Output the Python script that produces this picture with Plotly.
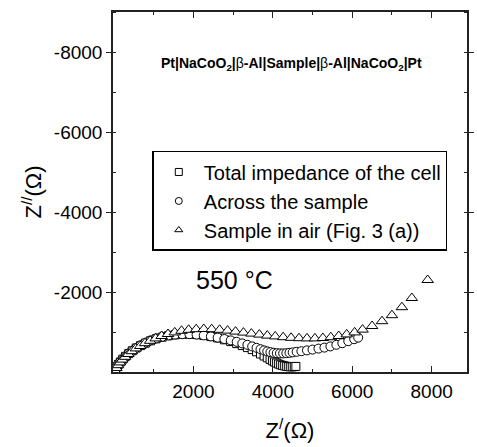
import plotly.graph_objects as go

# Nyquist data at 550 °C: Z' (ohm) and Z'' (ohm, negative = capacitive)
total_zre = [20, 40, 70, 110, 160, 220, 290, 370, 460, 560, 670, 790, 920, 1060, 1210,
             1370, 1540, 1720, 1900, 2080, 2260, 2440, 2610, 2780, 2940, 3090, 3230,
             3360, 3480, 3590, 3690, 3780, 3860, 3930, 3990, 4040, 4090, 4140, 4190,
             4240, 4290, 4340, 4390, 4440, 4490, 4540, 4580]
total_zim = [-20, -70, -130, -190, -250, -320, -390, -460, -530, -600, -660, -720, -780,
             -830, -870, -905, -930, -945, -945, -935, -915, -885, -850, -805, -760,
             -710, -660, -610, -560, -505, -450, -400, -355, -315, -280, -250, -225,
             -200, -180, -165, -152, -142, -135, -130, -130, -135, -140]

sample_zre = [20, 40, 70, 110, 160, 220, 290, 370, 460, 560, 670, 790, 920, 1060, 1210,
              1370, 1540, 1720, 1900, 2080, 2260, 2440, 2610, 2780, 2940, 3090, 3230,
              3360, 3480, 3590, 3690, 3780, 3860, 3940, 4020, 4100, 4180, 4260, 4340,
              4420, 4500, 4600, 4720, 4860, 5000, 5150, 5300, 5450, 5600, 5750, 5900,
              6050, 6150]
sample_zim = [-20, -70, -130, -190, -255, -325, -395, -465, -535, -605, -670, -735, -790,
              -840, -880, -915, -935, -945, -945, -935, -915, -890, -860, -825, -790,
              -755, -715, -680, -640, -605, -570, -540, -515, -495, -480, -470, -465,
              -465, -470, -480, -490, -505, -520, -540, -560, -585, -610, -640, -680,
              -720, -770, -820, -860]

air_zre = [30, 60, 100, 150, 210, 280, 360, 450, 550, 660, 780, 910, 1050, 1200, 1360,
           1530, 1700, 1880, 2070, 2260, 2460, 2660, 2860, 3060, 3260, 3460, 3660, 3860,
           4060, 4260, 4460, 4660, 4860, 5060, 5260, 5460, 5660, 5860, 6060, 6260, 6500,
           6750, 7000, 7250, 7500, 7900]
air_zim = [-30, -100, -170, -240, -310, -380, -450, -520, -590, -650, -720, -780, -840,
           -900, -950, -990, -1030, -1055, -1070, -1075, -1070, -1055, -1035, -1010,
           -985, -960, -935, -910, -890, -870, -855, -845, -840, -840, -850, -870, -900,
           -940, -990, -1060, -1150, -1270, -1420, -1620, -1850, -2300]

series_names = ["Total impedance of the cell", "Across the sample", "Sample in air (Fig. 3 (a))"]
series_symbols = ["square", "circle", "triangle-up"]

x_ticks = [2000, 4000, 6000, 8000]
x_ticklabels = ["2000", "4000", "6000", "8000"]
y_ticks = [-8000, -6000, -4000, -2000]
y_ticklabels = ["-8000", "-6000", "-4000", "-2000"]

FONT = "Liberation Sans, Arial, Helvetica, sans-serif"

fig = go.Figure()

data = [(total_zre, total_zim, 8), (sample_zre, sample_zim, 9), (air_zre, air_zim, 10)]
for (zx, zy, size), name, sym in zip(data, series_names, series_symbols):
    fig.add_trace(go.Scatter(
        x=zx, y=zy, mode="markers", name=name, showlegend=False,
        marker=dict(symbol=sym, size=size, color="white",
                    line=dict(color="black", width=1)),
    ))

# small legend keys
for name, sym in zip(series_names, series_symbols):
    fig.add_trace(go.Scatter(
        x=[None], y=[None], mode="markers", name=name, legendgroup=name,
        marker=dict(symbol=sym, size=7, color="white",
                    line=dict(color="black", width=1)),
    ))

axis_common = dict(
    showline=True, linecolor="#222", linewidth=1.5, mirror="ticks",
    showgrid=False, zeroline=False, tickcolor="#222",
    tickfont=dict(family=FONT, size=19, color="black"),
)

fig.update_xaxes(
    range=[-25, 8890], tickvals=x_ticks, ticktext=x_ticklabels,
    ticks="inside", ticklen=6, ticklabelstandoff=1,
    minor=dict(ticks="inside", ticklen=3, dtick=1000, tick0=0, tickcolor="#222"),
    title=dict(text="Z<sup>/</sup>(Ω)", font=dict(family=FONT, size=22, color="black"),
               standoff=22),
    **axis_common,
)
fig.update_yaxes(
    range=[0, -9000], tickvals=y_ticks, ticktext=y_ticklabels,
    ticks="outside", ticklen=5,
    minor=dict(ticks="inside", ticklen=3, dtick=1000, tick0=0, tickcolor="#222"),
    title=dict(text="Z<sup>//</sup>(Ω)", font=dict(family=FONT, size=22, color="black"),
               standoff=6),
    **axis_common,
)

fig.add_annotation(
    x=0.504, y=0.886, xref="paper", yref="paper", showarrow=False,
    text="<b>Pt|NaCoO<sub>2</sub>|</b>β<b>-Al|Sample|</b>β<b>-Al|NaCoO<sub>2</sub>|Pt</b>",
    font=dict(family=FONT, size=14, color="black"),
)
fig.add_annotation(
    x=0.343, y=0.21, xref="paper", yref="paper", showarrow=False,
    text="550 °C", font=dict(family=FONT, size=25, color="black"),
)

fig.update_layout(
    width=477, height=447,
    margin=dict(l=113, r=3, t=12, b=75),
    paper_bgcolor="white", plot_bgcolor="white",
    legend=dict(
        x=0.111, y=0.614, xanchor="left", yanchor="top",
        bordercolor="black", borderwidth=1.5, bgcolor="white",
        font=dict(family=FONT, size=20, color="black"),
        tracegroupgap=0, itemwidth=40,
    ),
)

fig.write_html("out.html")
